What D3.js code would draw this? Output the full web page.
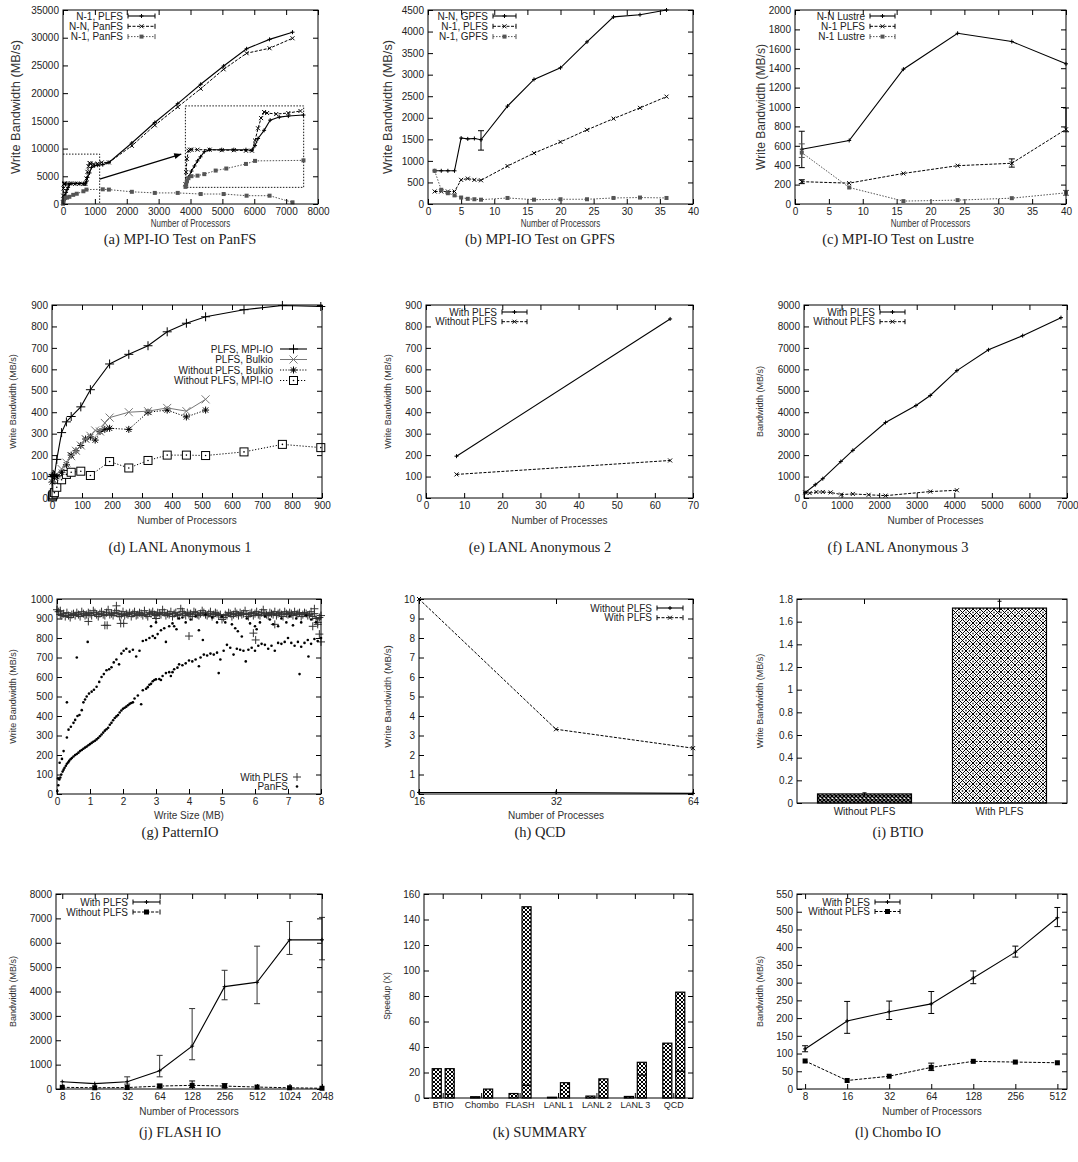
<!DOCTYPE html>
<html>
<head>
<meta charset="utf-8">
<script src="https://cdn.jsdelivr.net/npm/d3@7"></script>
<style>
body { margin: 0; background: #fff; }
</style>
</head>
<body>
<div id="chart"></div>
<script>
// ---------- data ----------
// (a) MPI-IO on PanFS  [procs, MB/s]
const panfsN1Plfs = [[1,200],[16,600],[32,1000],[64,1600],[96,2100],[128,2600],[160,3000],[200,3500],[256,3700],[384,3700],[512,3700],[640,3700],[704,3650],[736,4100],[768,4800],[832,5600],[896,6600],[992,6900],[1088,7000],[1248,7100],[1440,7500],[2160,11000],[2880,14700],[3600,18100],[4320,21600],[5040,24900],[5760,28000],[6480,29700],[7200,31000]]
const panfsNN = [[1,300],[8,1500],[16,2800],[32,3600],[48,3700],[64,3700],[128,3700],[256,3700],[384,3650],[512,3650],[640,3600],[704,3600],[736,4600],[768,5800],[800,6800],[832,7400],[864,7300],[960,7200],[1088,7300],[1216,7500],[1440,7500],[2160,10500],[2880,14200],[3600,17500],[4320,20800],[5040,24300],[5760,27200],[6480,28100],[7200,29900]]
const panfsN1 = [[1,50],[8,300],[16,600],[32,900],[64,1100],[128,1150],[200,1300],[320,1650],[432,1850],[640,2300],[736,2600],[1248,2650],[1440,2600],[2160,2200],[2880,2000],[3600,2000],[4320,1800],[5040,1800],[5760,1500],[6480,1500],[7200,300]]

// (b) MPI-IO on GPFS  [procs, MB/s, lo, hi]
const gpfsNN = [[1,770],[2,770],[3,770],[4,770],[5,1530],[6,1510],[7,1520],[8,1490,1250,1700],[12,2270],[16,2890],[20,3160],[24,3760],[28,4340],[32,4390],[36,4500]]
const gpfsN1Plfs = [[1,290],[2,290],[3,290],[4,290],[5,560],[6,590],[7,560],[8,550],[12,880],[16,1180],[20,1440],[24,1720],[28,1980],[32,2230],[36,2490]]
const gpfsN1 = [[1,770],[2,330],[3,250],[4,200],[5,150],[6,120],[7,110],[8,100],[12,140],[16,100],[20,110],[24,110],[28,140],[32,150],[36,140]]

// (c) MPI-IO on Lustre
const lustreNN = [[1,565,375,750],[8,655],[16,1390],[24,1760],[32,1675],[40,1445]]
const lustreN1Plfs = [[1,230,210,250],[8,215],[16,315],[24,395],[32,420,380,465],[40,770,745,990]]
const lustreN1 = [[1,530,480,620],[8,170],[16,30],[24,40],[32,60],[40,115,90,140]]

// (d) LANL Anonymous 1
const anon1PlfsMpi = [[1,100],[2,100],[4,110],[8,105],[16,180],[32,305],[48,355],[64,380],[96,425],[128,505],[192,625],[256,670],[320,710],[384,775],[448,815],[512,845],[640,878],[768,898],[896,893]]
const anon1PlfsBulk = [[1,90],[8,100],[16,110],[32,135],[48,165],[64,195],[80,220],[96,245],[112,275],[128,290],[144,315],[160,310],[176,350],[192,375],[256,400],[320,405],[384,420],[448,405],[512,460]]
const anon1NoBulk = [[1,75],[8,95],[16,100],[32,120],[48,155],[64,200],[80,220],[96,245],[112,275],[128,285],[144,270],[160,310],[176,320],[192,325],[256,320],[320,400],[384,410],[448,378],[512,410]]
const anon1NoMpi = [[1,5],[2,10],[4,15],[8,25],[16,50],[32,85],[48,110],[64,120],[96,125],[128,105],[192,170],[256,140],[320,175],[384,200],[448,200],[512,198],[640,215],[768,250],[896,235]]

// (e) LANL Anonymous 2
const anon2With = [[8,195],[64,835]]
const anon2Without = [[8,110],[64,175]]

// (f) LANL Anonymous 3
const anon3With = [[32,250],[300,620],[500,900],[980,1700],[1300,2220],[2170,3520],[2980,4310],[3360,4780],[4070,5940],[4910,6910],[5820,7570],[6840,8410]]
const anon3Without = [[32,260],[150,230],[330,280],[500,280],[710,260],[990,160],[1300,190],[1720,150],[2170,110],[3360,300],[4070,360]]

// (g) PatternIO: With PLFS band on a 0..8 MB write-size grid, plus stray points
const patternPlfs = [945,935,920,915,925,910,930,915,905,920,925,915,930,920,910,935,925,915,920,930,925,915,940,930,920,910,925,935,920,915,930,945,920,925,915,930,940,925,910,920,935,915,925,920,930,910,925,935,915,920,930,925,915,940,920,910,930,925,935,920,915,930,925,920,945,930,915,925,920,935,910,925,930,915,920,950,935,925,915,930,920,925,910,935,930,920,915,925,940,930,920,915,925,935,910,920,930,925,915,920,895,905,920,915,930,925,910,920,935,925,915,930,920,925,940,920,910,925,930,915,925,935,920,915,930,945,925,920,915,930,925,920,935,915,925,930,920,910,935,925,920,930,925,915,935,920,925,930,910,920,930,925,915,920,935,910,925,900,880,905,915]
const patternPlfsExtra = [[1.8,965],[0.95,885],[1.45,865],[1.52,865],[1.93,875],[2.02,875],[4.0,810],[5.95,825],[6.02,790],[6.6,870],[7.75,860],[7.8,950],[7.95,820],[8.0,780],[7.9,870],[0.1,940],[3.0,900]]
const patternPanfs = [[0.01,15],[0.04,45],[0.07,75],[0.1,85],[0.13,100],[0.17,115],[0.2,125],[0.23,135],[0.27,145],[0.3,155],[0.34,162],[0.37,170],[0.41,178],[0.45,185],[0.5,192],[0.55,200],[0.6,205],[0.65,212],[0.7,220],[0.75,226],[0.8,232],[0.85,238],[0.9,243],[0.95,250],[1.0,256],[1.05,262],[1.1,268],[1.15,273],[1.2,280],[1.25,287],[1.3,296],[1.35,305],[1.4,315],[1.45,325],[1.5,332],[1.55,340],[1.6,355],[1.65,365],[1.7,378],[1.75,390],[1.8,398],[1.85,405],[1.9,418],[1.95,428],[2.0,437],[2.05,442],[2.1,448],[2.15,455],[2.2,462],[2.25,467],[2.3,470],[2.35,490],[2.45,505],[2.55,460],[2.6,532],[2.7,540],[2.75,548],[2.8,560],[2.85,565],[2.9,578],[2.95,585],[3.0,588],[3.1,590],[3.15,585],[3.2,605],[3.3,620],[3.4,625],[3.45,605],[3.5,625],[3.55,640],[3.65,648],[3.7,665],[3.8,660],[3.9,670],[4.0,685],[4.1,680],[4.2,690],[4.3,655],[4.35,700],[4.45,715],[4.55,710],[4.65,720],[4.75,715],[4.85,725],[4.9,620],[4.95,690],[5.05,735],[5.15,765],[5.25,750],[5.35,715],[5.45,745],[5.55,740],[5.65,735],[5.72,680],[5.8,740],[5.9,750],[6.0,735],[6.1,760],[6.2,770],[6.3,765],[6.4,745],[6.5,760],[6.6,735],[6.7,775],[6.8,770],[6.9,780],[7.0,800],[7.1,775],[7.2,760],[7.3,780],[7.4,755],[7.5,775],[7.6,790],[7.7,770],[7.8,795],[7.9,785],[8.0,800],[7.35,615],[7.62,705],
  [0.03,80],[0.08,160],[0.15,180],[0.2,220],[0.3,290],[0.35,330],[0.42,345],[0.5,365],[0.55,380],[0.62,400],[0.68,405],[0.75,430],[0.8,470],[0.85,485],[0.9,500],[0.97,515],[1.05,525],[1.12,535],[1.2,550],[1.28,575],[1.35,600],[1.42,615],[1.5,635],[1.58,640],[1.65,650],[1.72,675],[1.8,690],[1.88,665],[1.95,720],[2.02,735],[2.1,745],[2.2,730],[2.3,740],[2.4,705],[2.5,735],[2.6,785],[2.7,790],[2.8,800],[2.9,810],[2.97,800],[3.05,820],[3.15,840],[3.25,850],[3.3,780],[3.4,860],[3.5,875],[3.55,860],[3.62,845],[3.7,900],[3.8,905],[0.3,470],[0.6,700],[0.93,780],
  [3.9,880],[4.05,895],[4.2,910],[4.3,840],[4.42,790],[4.5,920],[4.7,905],[4.85,880],[5.0,910],[5.1,880],[5.3,870],[5.4,850],[5.48,835],[5.6,808],[5.75,900],[5.85,875],[6.0,860],[6.05,845],[6.15,880],[6.3,910],[6.45,895],[6.55,870],[6.7,860],[6.8,900],[6.95,880],[7.05,910],[7.15,865],[7.25,900],[7.4,880],[7.55,915],[7.7,895],[7.85,880],[3.0,880],[2.85,860]]

// (h) QCD
const qcdProcs = [16, 32, 64]
const qcdWithout = [0.08, 0.08, 0.03]
const qcdWith = [10, 3.32, 2.35]

// (i) BTIO
const btioCats = ["Without PLFS", "With PLFS"]
const btioValues = [0.08, 1.72]
const btioErr = [[0.07, 0.09], [1.68, 1.78]]
const btioTicks = [0, 0.2, 0.4, 0.6, 0.8, 1, 1.2, 1.4, 1.6, 1.8]

// (j) FLASH IO
const flashProcs = [8, 16, 32, 64, 128, 256, 512, 1024, 2048]
const flashWith = [300, 220, 300, 750, 1760, 4200, 4380, 6120, 6120]
const flashWithErr = [null, null, [200, 500], [500, 1380], [1200, 3300], [3660, 4870], [3500, 5860], [5520, 6870], [5300, 7040]]
const flashWithout = [70, 50, 60, 120, 150, 120, 80, 50, 30]
const flashWithoutErr = [null, null, null, [60, 200], [60, 330], [60, 220], null, null, null]

// (k) SUMMARY
const summaryCats = ["BTIO", "Chombo", "FLASH", "LANL 1", "LANL 2", "LANL 3", "QCD"]
const summaryFirst = [23, 1, 3.5, 0.6, 1.5, 1.2, 43]
const summarySecond = [23, 7, 150, 12, 15, 28, 83]
const summaryInner = [2.9, 0, 10, 0, 0, 18, 21]

// (l) Chombo IO
const chomboProcs = [8, 16, 32, 64, 128, 256, 512]
const chomboWith = [113, 192, 218, 240, 313, 386, 483]
const chomboWithErr = [[105, 122], [157, 247], [196, 248], [213, 275], [297, 333], [372, 403], [458, 512]]
const chomboWithout = [79, 24, 36, 61, 78, 76, 74]
const chomboWithoutErr = [null, null, null, [52, 73], null, null, null]

// ---------- drawing ----------
const W = 1078, H = 1162
const SANS = '"Liberation Sans", Arial, Helvetica, sans-serif'
const SERIF = '"Liberation Serif", "Times New Roman", serif'

const svg = d3.select("#chart").append("svg")
    .attr("width", W)
    .attr("height", H)
svg.append("rect").attr("width", W).attr("height", H).attr("fill", "#fff")

const defs = svg.append("defs")
function hatch(id, size, sw, dots) {
    const p = defs.append("pattern")
        .attr("id", id)
        .attr("patternUnits", "userSpaceOnUse")
        .attr("width", size).attr("height", size)
    p.append("rect").attr("width", size).attr("height", size).attr("fill", "#fff")
    p.append("path")
        .attr("d", `M0,0L${size},${size}M${size},0L0,${size}`)
        .attr("stroke", "#000").attr("stroke-width", sw)
    if (dots) {
        const h = size / 2
        ;[[0, h], [size, h], [h, 0], [h, size]].forEach(([cx, cy]) =>
            p.append("circle").attr("cx", cx).attr("cy", cy).attr("r", 0.9).attr("fill", "#444"))
    }
}
hatch("hatchDark", 4, 1.5)
hatch("hatchMid", 4, 1.0)
hatch("hatchLight", 7, 1.0, true)

const S1 = {mark: "plus", size: 2, color: "#000", width: 1.1}
const S2 = {mark: "cross", size: 2, color: "#000", width: 1, dash: "3,1.5"}
const S3 = {mark: "square", size: 2, color: "#555", width: 1, dash: "1.5,1.5"}

function mark(g, type, cx, cy, s, c) {
    c = c || "#000"
    if (type === "plus" || type === "star")
        g.append("path").attr("d", `M${cx-s},${cy}H${cx+s}M${cx},${cy-s}V${cy+s}`)
            .attr("stroke", c).attr("stroke-width", 1).attr("fill", "none")
    if (type === "cross" || type === "star") {
        const t = type === "star" ? s * 0.75 : s
        g.append("path").attr("d", `M${cx-t},${cy-t}L${cx+t},${cy+t}M${cx+t},${cy-t}L${cx-t},${cy+t}`)
            .attr("stroke", c).attr("stroke-width", 1).attr("fill", "none")
    }
    if (type === "square")
        g.append("rect").attr("x", cx - s).attr("y", cy - s).attr("width", 2 * s).attr("height", 2 * s).attr("fill", c)
    if (type === "osquare") {
        g.append("rect").attr("x", cx - s).attr("y", cy - s).attr("width", 2 * s).attr("height", 2 * s)
            .attr("fill", "#fff").attr("stroke", c).attr("stroke-width", 1)
        g.append("circle").attr("cx", cx).attr("cy", cy).attr("r", 0.8).attr("fill", c)
    }
    if (type === "dot")
        g.append("circle").attr("cx", cx).attr("cy", cy).attr("r", s).attr("fill", c)
}

function series(g, x, y, data, st) {
    if (st.line !== false) {
        g.append("path")
            .attr("d", d3.line().x(d => x(d[0])).y(d => y(d[1]))(data))
            .attr("fill", "none")
            .attr("stroke", st.color)
            .attr("stroke-width", st.width)
            .attr("stroke-dasharray", st.dash || null)
    }
    data.filter(d => d.length > 2).forEach(d => {
        const cx = x(d[0])
        g.append("path")
            .attr("d", `M${cx},${y(d[2])}V${y(d[3])}M${cx-3},${y(d[2])}H${cx+3}M${cx-3},${y(d[3])}H${cx+3}`)
            .attr("stroke", st.errColor || st.color).attr("stroke-width", 1).attr("fill", "none")
    })
    data.forEach(d => mark(g, st.mark, x(d[0]), y(d[1]), st.size, st.color))
}

function legend(g, rows, o) {
    rows.forEach((r, i) => {
        const y = o.y + i * o.dy
        g.append("text")
            .attr("x", o.tx).attr("y", y).attr("dy", "0.35em")
            .attr("text-anchor", "end")
            .attr("font-family", SANS).attr("font-size", 10).attr("fill", "#222")
            .text(r.label)
        if (r.st.line !== false && o.l0 !== undefined) {
            g.append("line").attr("x1", o.l0).attr("x2", o.l1).attr("y1", y).attr("y2", y)
                .attr("stroke", r.st.color).attr("stroke-width", r.st.width)
                .attr("stroke-dasharray", r.st.dash || null)
            if (o.caps) {
                g.append("path").attr("d", `M${o.l0},${y-2.5}V${y+2.5}M${o.l1},${y-2.5}V${y+2.5}`)
                    .attr("stroke", r.st.color).attr("stroke-width", 1)
            }
        }
        mark(g, r.st.mark, o.m !== undefined ? o.m : (o.l0 + o.l1) / 2, y, r.st.size, r.st.color)
    })
}

function panel(o) {
    const [x0, x1, y0, y1] = o.box
    const g = svg.append("g")
    const ax = (axis, tx, ty, fs) => {
        const a = g.append("g").attr("transform", `translate(${tx},${ty})`).call(axis)
        a.select(".domain").remove()
        a.selectAll("text").attr("font-family", SANS).attr("font-size", fs || 10).attr("fill", "#222")
        a.selectAll("line").attr("stroke", "#000")
        return a
    }
    ax(d3.axisLeft(o.y).tickValues(o.yTicks).tickSizeInner(-5).tickSizeOuter(0).tickPadding(4)
        .tickFormat(o.yFmt || (d => d)), x0, 0)
    ax(d3.axisRight(o.y).tickValues(o.yTicks).tickSizeInner(-5).tickSizeOuter(0).tickFormat(""), x1, 0)
    ax(d3.axisBottom(o.x).tickValues(o.xTicks).tickSizeInner(o.noBottomTicks ? 0 : -5).tickSizeOuter(0)
        .tickPadding(o.xPad || 4).tickFormat(o.xFmt || (d => d)), 0, y1, o.xTickFont)
    ax(d3.axisTop(o.x).tickValues(o.xTicks).tickSizeInner(-5).tickSizeOuter(0).tickFormat(""), 0, y0)

    o.draw(g)

    g.append("rect")
        .attr("x", x0).attr("y", y0).attr("width", x1 - x0).attr("height", y1 - y0)
        .attr("fill", "none").attr("stroke", "#000").attr("stroke-width", 1)

    g.append("text")
        .attr("transform", `translate(${o.yTitleX},${(y0 + y1) / 2}) rotate(-90)`)
        .attr("text-anchor", "middle").attr("dy", "0.35em")
        .attr("font-family", SANS).attr("font-size", o.yTitleSize || 9).attr("fill", "#333")
        .text(o.yTitle)
    if (o.xTitle)
        g.append("text")
            .attr("transform", `translate(${(x0 + x1) / 2},${o.xTitleY}) scale(${o.xTitleSqueeze || 1},1)`)
            .attr("text-anchor", "middle")
            .attr("font-family", SANS).attr("font-size", 10).attr("fill", "#333")
            .text(o.xTitle)
    g.append("text")
        .attr("x", o.capX).attr("y", o.capY)
        .attr("text-anchor", "middle")
        .attr("font-family", SERIF).attr("font-size", 14.5).attr("fill", "#222")
        .text(o.caption)
    return g
}

const pairs = (xs, ys, errs) => xs.map((v, i) => errs && errs[i] ? [v, ys[i], errs[i][0], errs[i][1]] : [v, ys[i]])

// ---- (a) ----
{
    const x = d3.scaleLinear().domain([0, 8000]).range([63, 318])
    const y = d3.scaleLinear().domain([0, 35000]).range([204, 10])
    panel({
        box: [63, 318, 10, 204], x, y,
        xTicks: d3.range(0, 8001, 1000), yTicks: d3.range(0, 35001, 5000),
        yTitle: "Write Bandwidth (MB/s)", yTitleX: 16, yTitleSize: 12.8,
        xTitle: "Number of Processors", xTitleY: 227, xTitleSqueeze: 0.8,
        caption: "(a) MPI-IO Test on PanFS", capX: 180, capY: 244,
        draw: g => {
            series(g, x, y, panfsN1Plfs, S1)
            series(g, x, y, panfsNN, S2)
            series(g, x, y, panfsN1, S3)
            // zoom region, arrow and inset
            const zoomTo = [1150, 9000]
            const inset = {x0: 3840, x1: 7550, y0: 3000, y1: 17700}
            const dotted = sel => sel.attr("fill", "none").attr("stroke", "#000").attr("stroke-width", 0.9).attr("stroke-dasharray", "1.5,1.5")
            g.append("path").call(dotted)
                .attr("d", `M${x(0)},${y(zoomTo[1])}H${x(zoomTo[0])}V${y(0)}`)
            g.append("rect").call(dotted)
                .attr("x", x(inset.x0)).attr("y", y(inset.y1))
                .attr("width", x(inset.x1) - x(inset.x0)).attr("height", y(inset.y0) - y(inset.y1))
            const ax0 = x(1150), ay0 = y(4500), ax1 = x(3710), ay1 = y(9000)
            g.append("line").attr("x1", ax0).attr("y1", ay0).attr("x2", ax1).attr("y2", ay1)
                .attr("stroke", "#000").attr("stroke-width", 1.2)
            const ang = Math.atan2(ay1 - ay0, ax1 - ax0)
            const hl = 7, hw = 3
            g.append("path")
                .attr("d", `M${ax1},${ay1}L${ax1 - hl * Math.cos(ang) + hw * Math.sin(ang)},${ay1 - hl * Math.sin(ang) - hw * Math.cos(ang)}L${ax1 - hl * Math.cos(ang) - hw * Math.sin(ang)},${ay1 - hl * Math.sin(ang) + hw * Math.cos(ang)}Z`)
                .attr("fill", "#000")
            const ix = d3.scaleLinear().domain([0, 1250]).range([x(inset.x0), x(inset.x1)])
            const iy = d3.scaleLinear().domain([0, 8000]).range([y(inset.y0), y(inset.y1)])
            const low = d => d.filter(p => p[0] <= 1250)
            series(g, ix, iy, low(panfsN1Plfs), S1)
            series(g, ix, iy, low(panfsNN), S2)
            series(g, ix, iy, low(panfsN1), S3)
            legend(g, [
                {label: "N-1, PLFS", st: S1},
                {label: "N-N, PanFS", st: S2},
                {label: "N-1, PanFS", st: S3}
            ], {tx: 123, l0: 128, l1: 155, y: 16, dy: 10.3, caps: true})
        }
    })
}

// ---- (b) ----
{
    const x = d3.scaleLinear().domain([0, 40]).range([428, 693])
    const y = d3.scaleLinear().domain([0, 4500]).range([204, 10])
    panel({
        box: [428, 693, 10, 204], x, y,
        xTicks: d3.range(0, 41, 5), yTicks: d3.range(0, 4501, 500),
        yTitle: "Write Bandwidth (MB/s)", yTitleX: 388, yTitleSize: 12.8,
        xTitle: "Number of Processors", xTitleY: 227, xTitleSqueeze: 0.8,
        caption: "(b) MPI-IO Test on GPFS", capX: 540, capY: 244,
        draw: g => {
            series(g, x, y, gpfsNN, S1)
            series(g, x, y, gpfsN1Plfs, S2)
            series(g, x, y, gpfsN1, S3)
            legend(g, [
                {label: "N-N, GPFS", st: S1},
                {label: "N-1, PLFS", st: S2},
                {label: "N-1, GPFS", st: S3}
            ], {tx: 488, l0: 493, l1: 516, y: 16, dy: 10.3, caps: true})
        }
    })
}

// ---- (c) ----
{
    const x = d3.scaleLinear().domain([0, 40]).range([795, 1066])
    const y = d3.scaleLinear().domain([0, 2000]).range([204, 10])
    panel({
        box: [795, 1066, 10, 204], x, y,
        xTicks: d3.range(0, 41, 5), yTicks: d3.range(0, 2001, 200),
        yTitle: "Write Bandwidth (MB/s)", yTitleX: 761, yTitleSize: 12,
        xTitle: "Number of Processors", xTitleY: 227, xTitleSqueeze: 0.8,
        caption: "(c) MPI-IO Test on Lustre", capX: 898, capY: 244,
        draw: g => {
            series(g, x, y, lustreNN, S1)
            series(g, x, y, lustreN1Plfs, S2)
            series(g, x, y, lustreN1, S3)
            legend(g, [
                {label: "N-N Lustre", st: S1},
                {label: "N-1 PLFS", st: S2},
                {label: "N-1 Lustre", st: S3}
            ], {tx: 865, l0: 870, l1: 895, y: 16, dy: 10.3, caps: true})
        }
    })
}

// ---- (d) ----
{
    const x = d3.scaleLinear().domain([0, 900]).range([52, 322])
    const y = d3.scaleLinear().domain([0, 900]).range([498, 305])
    const D1 = {mark: "plus", size: 4.5, color: "#000", width: 1.1}
    const D2 = {mark: "cross", size: 4, color: "#777", width: 1}
    const D3 = {mark: "star", size: 3.5, color: "#000", width: 1, dash: "1.2,1.6"}
    const D4 = {mark: "osquare", size: 4, color: "#000", width: 1, dash: "1.2,1.8"}
    panel({
        box: [52, 322, 305, 498], x, y,
        xTicks: d3.range(0, 901, 100), yTicks: d3.range(0, 901, 100),
        yTitle: "Write Bandwidth (MB/s)", yTitleX: 13,
        xTitle: "Number of Processors", xTitleY: 524,
        caption: "(d) LANL Anonymous 1", capX: 180, capY: 552,
        draw: g => {
            series(g, x, y, anon1NoMpi, D4)
            series(g, x, y, anon1NoBulk, D3)
            series(g, x, y, anon1PlfsBulk, D2)
            series(g, x, y, anon1PlfsMpi, D1)
            legend(g, [
                {label: "PLFS, MPI-IO", st: D1},
                {label: "PLFS, Bulkio", st: D2},
                {label: "Without PLFS, Bulkio", st: D3},
                {label: "Without PLFS, MPI-IO", st: D4}
            ], {tx: 273, l0: 280, l1: 307, y: 349, dy: 10.5})
        }
    })
}

// ---- (e) ----
{
    const x = d3.scaleLinear().domain([0, 70]).range([426, 693])
    const y = d3.scaleLinear().domain([0, 900]).range([498, 305])
    panel({
        box: [426, 693, 305, 498], x, y,
        xTicks: d3.range(0, 71, 10), yTicks: d3.range(0, 901, 100),
        yTitle: "Write Bandwidth (MB/s)", yTitleX: 388,
        xTitle: "Number of Processes", xTitleY: 524,
        caption: "(e) LANL Anonymous 2", capX: 540, capY: 552,
        draw: g => {
            series(g, x, y, anon2With, S1)
            series(g, x, y, anon2Without, S2)
            legend(g, [
                {label: "With PLFS", st: S1},
                {label: "Without PLFS", st: S2}
            ], {tx: 497, l0: 502, l1: 527, y: 312, dy: 9.7, caps: true})
        }
    })
}

// ---- (f) ----
{
    const x = d3.scaleLinear().domain([0, 7000]).range([804, 1067])
    const y = d3.scaleLinear().domain([0, 9000]).range([498, 305])
    panel({
        box: [804, 1067, 305, 498], x, y,
        xTicks: d3.range(0, 7001, 1000), yTicks: d3.range(0, 9001, 1000),
        yTitle: "Bandwidth (MB/s)", yTitleX: 760,
        xTitle: "Number of Processes", xTitleY: 524,
        caption: "(f) LANL Anonymous 3", capX: 898, capY: 552,
        draw: g => {
            series(g, x, y, anon3With, S1)
            series(g, x, y, anon3Without, S2)
            legend(g, [
                {label: "With PLFS", st: S1},
                {label: "Without PLFS", st: S2}
            ], {tx: 875, l0: 880, l1: 905, y: 312, dy: 9.7, caps: true})
        }
    })
}

// ---- (g) ----
{
    const x = d3.scaleLinear().domain([0, 8]).range([57, 321])
    const y = d3.scaleLinear().domain([0, 1000]).range([794, 599])
    const sizes = patternPlfs.map((v, i) => i * 8 / (patternPlfs.length - 1))
    const plfsPts = pairs(sizes, patternPlfs).concat(patternPlfsExtra)
    const GP = {mark: "plus", size: 4, color: "#333", line: false}
    const GD = {mark: "dot", size: 1.3, color: "#000", line: false}
    panel({
        box: [57, 321, 599, 794], x, y,
        xTicks: d3.range(0, 9, 1), yTicks: d3.range(0, 1001, 100),
        yTitle: "Write Bandwidth (MB/s)", yTitleX: 13,
        xTitle: "Write Size (MB)", xTitleY: 819,
        caption: "(g) PatternIO", capX: 180, capY: 837,
        draw: g => {
            series(g, x, y, plfsPts, GP)
            series(g, x, y, patternPanfs, GD)
            legend(g, [
                {label: "With PLFS", st: GP},
                {label: "PanFS", st: GD}
            ], {tx: 288, m: 297, y: 777, dy: 9.5})
        }
    })
}

// ---- (h) ----
{
    const x = d3.scaleLog().base(2).domain([16, 64]).range([419, 693])
    const y = d3.scaleLinear().domain([0, 10]).range([794, 599])
    panel({
        box: [419, 693, 599, 794], x, y,
        xTicks: qcdProcs, yTicks: d3.range(0, 11, 1),
        yTitle: "Write Bandwidth (MB/s)", yTitleX: 388, yTitleSize: 9.8,
        xTitle: "Number of Processes", xTitleY: 819,
        caption: "(h) QCD", capX: 540, capY: 837,
        draw: g => {
            series(g, x, y, pairs(qcdProcs, qcdWithout), S1)
            series(g, x, y, pairs(qcdProcs, qcdWith), S2)
            legend(g, [
                {label: "Without PLFS", st: S1},
                {label: "With PLFS", st: S2}
            ], {tx: 652, l0: 657, l1: 683, y: 608, dy: 9.7, caps: true})
        }
    })
}

// ---- (i) ----
{
    const x = d3.scaleBand().domain(btioCats).range([797, 1067]).paddingInner(0.304).paddingOuter(0.152)
    const y = d3.scaleLinear().domain([0, 1.8]).range([803, 599])
    panel({
        box: [797, 1067, 599, 803], x, y,
        xTicks: btioCats, yTicks: btioTicks, noBottomTicks: true, xPad: 5,
        yTitle: "Write Bandwidth (MB/s)", yTitleX: 760,
        caption: "(i) BTIO", capX: 898, capY: 837,
        draw: g => {
            g.selectAll("rect.bar").data(btioCats).enter().append("rect")
                .attr("class", "bar")
                .attr("x", d => x(d))
                .attr("y", (d, i) => y(btioValues[i]))
                .attr("width", x.bandwidth())
                .attr("height", (d, i) => y(0) - y(btioValues[i]))
                .attr("fill", (d, i) => i === 0 ? "url(#hatchDark)" : "url(#hatchLight)")
                .attr("stroke", "#000").attr("stroke-width", 1.2)
            btioCats.forEach((c, i) => {
                const cx = x(c) + x.bandwidth() / 2
                g.append("path")
                    .attr("d", `M${cx},${y(btioErr[i][0])}V${y(btioErr[i][1])}M${cx-2},${y(btioErr[i][1])}H${cx+2}`)
                    .attr("stroke", "#000").attr("stroke-width", 1)
            })
        }
    })
}

// ---- (j) ----
{
    const x = d3.scaleLog().base(2).domain([7, 2048]).range([56, 322])
    const y = d3.scaleLinear().domain([0, 8000]).range([1089, 894])
    const JW = {mark: "plus", size: 2, color: "#000", width: 1.1, errColor: "#333"}
    const JN = {mark: "square", size: 2.5, color: "#000", width: 1, dash: "3,1.5"}
    panel({
        box: [56, 322, 894, 1089], x, y,
        xTicks: flashProcs, yTicks: d3.range(0, 8001, 1000),
        yTitle: "Bandwidth (MB/s)", yTitleX: 13,
        xTitle: "Number of Processors", xTitleY: 1115,
        caption: "(j) FLASH IO", capX: 180, capY: 1137,
        draw: g => {
            series(g, x, y, pairs(flashProcs, flashWithout, flashWithoutErr), JN)
            series(g, x, y, pairs(flashProcs, flashWith, flashWithErr), JW)
            legend(g, [
                {label: "With PLFS", st: JW},
                {label: "Without PLFS", st: JN}
            ], {tx: 128, l0: 133, l1: 160, y: 902, dy: 10, caps: true})
        }
    })
}

// ---- (k) ----
{
    const x = d3.scaleBand().domain(summaryCats).range([424, 693]).padding(0)
    const sub = d3.scaleBand().domain([0, 1]).range([-11, 11]).paddingInner(0.3)
    const y = d3.scaleLinear().domain([0, 160]).range([1098, 894])
    panel({
        box: [424, 693, 894, 1098], x, y,
        xTicks: summaryCats, yTicks: d3.range(0, 161, 20), xTickFont: 9,
        yTitle: "Speedup (X)", yTitleX: 387, yTitleSize: 8.5,
        caption: "(k) SUMMARY", capX: 540, capY: 1137,
        draw: g => {
            [summaryFirst, summarySecond].forEach((vals, k) => {
                g.selectAll(`rect.s${k}`).data(summaryCats).enter().append("rect")
                    .attr("class", `s${k}`)
                    .attr("x", d => x(d) + x.bandwidth() / 2 + sub(k))
                    .attr("y", (d, i) => y(vals[i]))
                    .attr("width", sub.bandwidth())
                    .attr("height", (d, i) => y(0) - y(vals[i]))
                    .attr("fill", "url(#hatchMid)")
                    .attr("stroke", "#000").attr("stroke-width", 1.2)
            })
            summaryCats.forEach((c, i) => {
                if (!summaryInner[i]) return
                const bx = x(c) + x.bandwidth() / 2 + sub(1)
                g.append("line").attr("x1", bx).attr("x2", bx + sub.bandwidth())
                    .attr("y1", y(summaryInner[i])).attr("y2", y(summaryInner[i]))
                    .attr("stroke", "#000").attr("stroke-width", 1.2)
            })
        }
    })
}

// ---- (l) ----
{
    const x = d3.scaleLog().base(2).domain([7, 600]).range([797, 1067])
    const y = d3.scaleLinear().domain([0, 550]).range([1089, 894])
    const LW = {mark: "plus", size: 2, color: "#000", width: 1.1}
    const LN = {mark: "square", size: 2.5, color: "#000", width: 1, dash: "3,1.5"}
    panel({
        box: [797, 1067, 894, 1089], x, y,
        xTicks: chomboProcs, yTicks: d3.range(0, 551, 50),
        yTitle: "Bandwidth (MB/s)", yTitleX: 760,
        xTitle: "Number of Processors", xTitleY: 1115,
        caption: "(l) Chombo IO", capX: 898, capY: 1137,
        draw: g => {
            series(g, x, y, pairs(chomboProcs, chomboWith, chomboWithErr), LW)
            series(g, x, y, pairs(chomboProcs, chomboWithout, chomboWithoutErr), LN)
            legend(g, [
                {label: "With PLFS", st: LW},
                {label: "Without PLFS", st: LN}
            ], {tx: 870, l0: 875, l1: 900, y: 902, dy: 9.5, caps: true})
        }
    })
}
</script>
</body>
</html>
